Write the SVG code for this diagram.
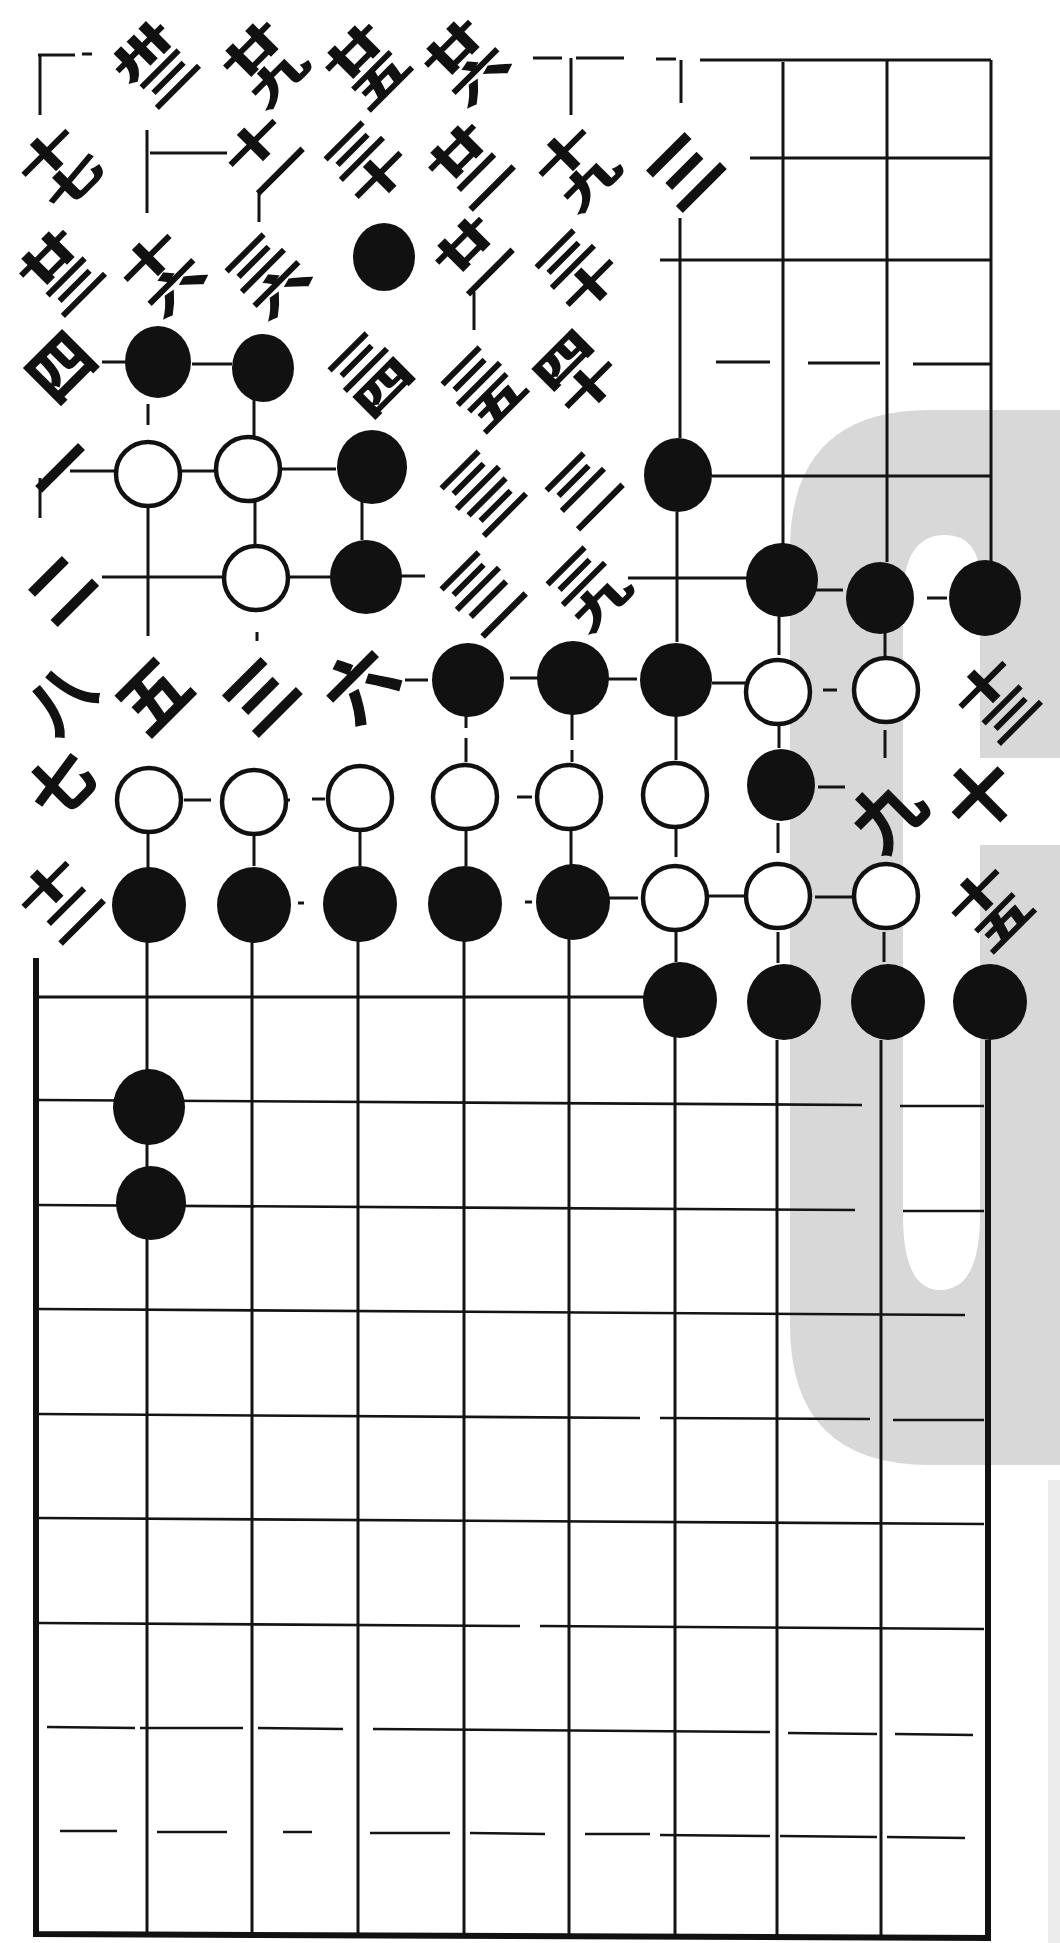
<svg xmlns="http://www.w3.org/2000/svg" width="1060" height="1943" viewBox="0 0 1060 1943">
<style>
.ln{stroke:#141414;stroke-width:3;fill:none;stroke-linecap:butt}
.lt{stroke:#141414;stroke-width:2.6;fill:none}
.bd{stroke:#111;stroke-width:6;fill:none}
.b{fill:#111}
.w{fill:#fff;stroke:#111;stroke-width:4.5}
.t1,.t2,.t0{font-family:'Noto Sans CJK SC','Noto Sans CJK TC',sans-serif;font-weight:700;fill:#111;stroke:#111;text-anchor:middle}
.t1{font-size:70px;stroke-width:1.2}
.t0{font-size:64px;stroke-width:1.4}
.t2{font-size:66px;stroke-width:2}
</style>
<rect width="1060" height="1943" fill="#fff"/>
<g id="shade">
<path d="M1060,410 H930 Q790,410 790,550 V1325 Q790,1465 930,1465 H1060 Z" fill="#d8d8d8"/>
<path d="M903,600 Q903,535 945,535 Q980,535 980,580 V758 H1060 V845 H980 V1215 Q980,1290 940,1290 Q903,1290 903,1215 Z" fill="#fff"/>
<rect x="1048" y="1480" width="12" height="463" fill="#ececec"/>
</g>
<g id="grid">
<path class="ln" d="M38,55 H75 M82,54 H92 M40,55 V115"/>
<path class="ln" d="M533,58 H562 M576,58 H624 M656,59 H676 M700,60 H991"/>
<path class="ln" d="M571,58 V115 M681,60 V103 M680,218 V438 M783,62 V545 M887,60 V562 M991,60 V562"/>
<path class="ln" d="M750,158 H991 M660,260 H991 M716,362 H770 M808,363 H880 M913,364 H991 M712,476 H991"/>
<path class="ln" d="M150,153 H227 M147,130 V213 M259,190 V222 M474,292 V330"/>
<path class="ln" d="M102,362 H125 M192,364 H232"/>
<path class="ln" d="M70,471 H117 M181,471 H216 M281,469 H336 M40,478 V518"/>
<path class="ln" d="M148,404 V425 M148,508 V636 M148,832 V868 M147,940 V1935"/>
<path class="ln" d="M102,577 H226 M290,577 H331 M400,576 H425 M628,578 H748 M813,590 H843 M927,598 H947"/>
<path class="ln" d="M254,400 V436 M255,502 V546 M257,632 V641 M254,836 V866 M252,940 V1935"/>
<path class="ln" d="M362,500 V540 M360,832 V866 M358,940 V1935"/>
<path class="ln" d="M677,512 V642 M676,716 V760 M676,826 V857 M676,926 V962 M675,1036 V1935"/>
<path class="ln" d="M405,680 H428 M510,678 H540 M607,679 H637 M712,683 H746 M823,690 H837"/>
<path class="ln" d="M466,716 V728 M466,738 V762 M466,830 V866 M464,940 V1935"/>
<path class="ln" d="M572,714 V740 M572,750 V762 M571,830 V866 M569,938 V1935"/>
<path class="ln" d="M184,800 H211 M283,800 H290 M312,799 H325 M517,797 H532 M818,787 H845"/>
<path class="ln" d="M779,614 V655 M779,726 V748 M778,823 V853 M778,932 V963 M777,1040 V1935"/>
<path class="ln" d="M885,632 V656 M885,730 V758 M884,932 V962 M881,1040 V1935"/>
<path class="ln" d="M298,903 H304 M525,902 H532 M606,898 H638 M708,896 H745 M815,897 H852"/>
<path class="ln" d="M38,997 H645"/>
<path class="lt" d="M38,1100 L862,1105 M900,1106 L984,1106"/>
<path class="lt" d="M38,1205 L855,1210 M903,1211 L984,1211"/>
<path class="lt" d="M38,1309 L965,1315"/>
<path class="lt" d="M38,1414 L640,1418 M660,1418 L870,1419 M893,1420 L984,1420"/>
<path class="lt" d="M38,1518 L984,1524"/>
<path class="lt" d="M38,1623 L520,1626 M540,1626 L984,1629"/>
<path class="lt" d="M47,1727 L135,1728 M140,1728 L243,1728 M258,1728 L343,1729 M373,1729 L770,1732 M788,1733 L877,1734 M895,1734 L973,1735"/>
<path class="lt" d="M60,1831 L117,1831 M157,1832 L227,1832 M283,1832 L312,1832 M370,1833 L450,1833 M470,1833 L545,1834 M585,1834 L650,1834 M660,1835 L770,1836 M780,1836 L877,1837 M887,1837 L965,1838"/>
<path class="bd" d="M36,958 V1936 M988,1040 V1938 M33,1934 L991,1938"/>
</g>
<g id="black-stones">
<ellipse id="b-3-2" class="b" cx="384" cy="257" rx="31" ry="34"/>
<ellipse id="b-1-3" class="b" cx="158" cy="362" rx="33" ry="36"/>
<ellipse id="b-2-3" class="b" cx="263" cy="368" rx="31" ry="34"/>
<ellipse id="b-3-4" class="b" cx="372" cy="467" rx="35" ry="37"/>
<ellipse id="b-6-4" class="b" cx="678" cy="475" rx="34" ry="37"/>
<ellipse id="b-3-5" class="b" cx="366" cy="577" rx="36" ry="37"/>
<ellipse id="b-7-5" class="b" cx="782" cy="580" rx="36" ry="37"/>
<ellipse id="b-8-5" class="b" cx="880" cy="598" rx="34" ry="36"/>
<ellipse id="b-9-5" class="b" cx="985" cy="598" rx="36" ry="38"/>
<ellipse id="b-4-6" class="b" cx="468" cy="680" rx="36" ry="37"/>
<ellipse id="b-5-6" class="b" cx="573" cy="678" rx="36" ry="37"/>
<ellipse id="b-6-6" class="b" cx="676" cy="680" rx="36" ry="37"/>
<ellipse id="b-7-7" class="b" cx="781" cy="785" rx="34" ry="36"/>
<ellipse id="b-1-8" class="b" cx="149" cy="905" rx="37" ry="38"/>
<ellipse id="b-2-8" class="b" cx="254" cy="905" rx="37" ry="38"/>
<ellipse id="b-3-8" class="b" cx="360" cy="904" rx="37" ry="38"/>
<ellipse id="b-4-8" class="b" cx="465" cy="904" rx="37" ry="38"/>
<ellipse id="b-5-8" class="b" cx="573" cy="902" rx="37" ry="38"/>
<ellipse id="b-6-9" class="b" cx="680" cy="1000" rx="37" ry="38"/>
<ellipse id="b-7-9" class="b" cx="784" cy="1002" rx="37" ry="38"/>
<ellipse id="b-8-9" class="b" cx="888" cy="1002" rx="37" ry="38"/>
<ellipse id="b-9-9" class="b" cx="990" cy="1002" rx="37" ry="38"/>
<ellipse id="b-1-10" class="b" cx="149" cy="1107" rx="36" ry="38"/>
<ellipse id="b-1-11" class="b" cx="151" cy="1203" rx="35" ry="37"/>
</g>
<g id="white-stones">
<circle id="w-1-4" class="w" cx="148" cy="474" r="32"/>
<circle id="w-2-4" class="w" cx="248" cy="469" r="32"/>
<circle id="w-2-5" class="w" cx="256" cy="578" r="32"/>
<circle id="w-7-6" class="w" cx="778" cy="692" r="32"/>
<circle id="w-8-6" class="w" cx="886" cy="690" r="32"/>
<circle id="w-1-7" class="w" cx="149" cy="800" r="32"/>
<circle id="w-2-7" class="w" cx="254" cy="802" r="32"/>
<circle id="w-3-7" class="w" cx="360" cy="798" r="32"/>
<circle id="w-4-7" class="w" cx="465" cy="797" r="32"/>
<circle id="w-5-7" class="w" cx="569" cy="797" r="32"/>
<circle id="w-6-7" class="w" cx="675" cy="795" r="32"/>
<circle id="w-6-8" class="w" cx="675" cy="898" r="32"/>
<circle id="w-7-8" class="w" cx="778" cy="896" r="32"/>
<circle id="w-8-8" class="w" cx="886" cy="896" r="32"/>
</g>
<g id="labels">
<g id="n-1-0" transform="translate(155,64) rotate(-45)"><text class="t2" transform="scale(1,0.58)"><tspan x="0" y="-8">卅</tspan><tspan x="0" y="58">三</tspan></text></g>
<g id="n-2-0" transform="translate(265,64) rotate(-45)"><text class="t2" transform="scale(1,0.58)"><tspan x="0" y="-8">廿</tspan><tspan x="0" y="58">九</tspan></text></g>
<g id="n-3-0" transform="translate(367,66) rotate(-45)"><text class="t2" transform="scale(1,0.58)"><tspan x="0" y="-8">廿</tspan><tspan x="0" y="58">五</tspan></text></g>
<g id="n-4-0" transform="translate(466,62) rotate(-45)"><text class="t2" transform="scale(1,0.58)"><tspan x="0" y="-8">廿</tspan><tspan x="0" y="58">六</tspan></text></g>
<g id="n-0-1" transform="translate(60,168) rotate(-45)"><text class="t2" transform="scale(1,0.58)"><tspan x="0" y="-8">十</tspan><tspan x="0" y="58">七</tspan></text></g>
<g id="n-2-1" transform="translate(267,158) rotate(-45)"><text class="t2" transform="scale(1,0.58)"><tspan x="0" y="-8">十</tspan><tspan x="0" y="58">一</tspan></text></g>
<g id="n-3-1" transform="translate(366,163) rotate(-45)"><text class="t2" transform="scale(1,0.58)"><tspan x="0" y="-8">三</tspan><tspan x="0" y="58">十</tspan></text></g>
<g id="n-4-1" transform="translate(470,166) rotate(-45)"><text class="t2" transform="scale(1,0.58)"><tspan x="0" y="-8">廿</tspan><tspan x="0" y="58">二</tspan></text></g>
<g id="n-5-1" transform="translate(577,168) rotate(-45)"><text class="t2" transform="scale(1,0.58)"><tspan x="0" y="-8">十</tspan><tspan x="0" y="58">九</tspan></text></g>
<g id="n-6-1" transform="translate(684,170) rotate(-45)"><text class="t1" y="27">三</text></g>
<g id="n-0-2" transform="translate(61,272) rotate(-45)"><text class="t2" transform="scale(1,0.58)"><tspan x="0" y="-8">廿</tspan><tspan x="0" y="58">三</tspan></text></g>
<g id="n-1-2" transform="translate(162,273) rotate(-45)"><text class="t2" transform="scale(1,0.58)"><tspan x="0" y="-8">十</tspan><tspan x="0" y="58">六</tspan></text></g>
<g id="n-2-2" transform="translate(267,275) rotate(-45)"><text class="t2" transform="scale(1,0.58)"><tspan x="0" y="-8">三</tspan><tspan x="0" y="58">六</tspan></text></g>
<g id="n-4-2" transform="translate(477,259) rotate(-45)"><text class="t2" transform="scale(1,0.58)"><tspan x="0" y="-8">廿</tspan><tspan x="0" y="58">一</tspan></text></g>
<g id="n-5-2" transform="translate(577,271) rotate(-45)"><text class="t2" transform="scale(1,0.58)"><tspan x="0" y="-8">三</tspan><tspan x="0" y="58">十</tspan></text></g>
<g id="n-0-3" transform="translate(60,366) rotate(-45)"><text class="t0" y="25">四</text></g>
<g id="n-3-3" transform="translate(370,374) rotate(-45)"><text class="t2" transform="scale(1,0.58)"><tspan x="0" y="-8">三</tspan><tspan x="0" y="58">四</tspan></text></g>
<g id="n-4-3" transform="translate(483,388) rotate(-45)"><text class="t2" transform="scale(1,0.58)"><tspan x="0" y="-8">三</tspan><tspan x="0" y="58">五</tspan></text></g>
<g id="n-5-3" transform="translate(576,373) rotate(-45)"><text class="t2" transform="scale(1,0.58)"><tspan x="0" y="-8">四</tspan><tspan x="0" y="58">十</tspan></text></g>
<g id="n-0-4" transform="translate(60,468) rotate(-45)"><text class="t0" y="25">一</text></g>
<g id="n-4-4" transform="translate(482,492) rotate(-45)"><text class="t2" transform="scale(1,0.58)"><tspan x="0" y="-8">三</tspan><tspan x="0" y="58">三</tspan></text></g>
<g id="n-5-4" transform="translate(587,494) rotate(-45)"><text class="t2" transform="scale(1,0.58)"><tspan x="0" y="-8">三</tspan><tspan x="0" y="58">一</tspan></text></g>
<g id="n-0-5" transform="translate(60,588) rotate(-45)"><text class="t0" y="25">二</text></g>
<g id="n-4-5" transform="translate(482,593) rotate(-45)"><text class="t2" transform="scale(1,0.58)"><tspan x="0" y="-8">三</tspan><tspan x="0" y="58">二</tspan></text></g>
<g id="n-5-5" transform="translate(588,588) rotate(-45)"><text class="t2" transform="scale(1,0.58)"><tspan x="0" y="-8">三</tspan><tspan x="0" y="58">九</tspan></text></g>
<g id="n-0-6" transform="translate(60,698) rotate(-45)"><text class="t0" y="25">八</text></g>
<g id="n-1-6" transform="translate(153,695) rotate(-45)"><text class="t1" y="27">五</text></g>
<g id="n-2-6" transform="translate(260,695) rotate(-45)"><text class="t1" y="27">三</text></g>
<g id="n-3-6" transform="translate(360,684) rotate(-45)"><text class="t1" y="27">六</text></g>
<g id="n-9-6" transform="translate(997,700) rotate(-45)"><text class="t2" transform="scale(1,0.58)"><tspan x="0" y="-8">十</tspan><tspan x="0" y="58">三</tspan></text></g>
<g id="n-0-7" transform="translate(60,784) rotate(-45)"><text class="t0" y="25">七</text></g>
<g id="n-8-7" transform="translate(887,813) rotate(-45)"><text class="t1" y="27">九</text></g>
<g id="n-9-7" transform="translate(980,795) rotate(-45)"><text class="t1" y="27">十</text></g>
<g id="n-0-8" transform="translate(60,900) rotate(-45)"><text class="t2" transform="scale(1,0.58)"><tspan x="0" y="-8">十</tspan><tspan x="0" y="58">二</tspan></text></g>
<g id="n-9-8" transform="translate(990,908) rotate(-45)"><text class="t2" transform="scale(1,0.58)"><tspan x="0" y="-8">十</tspan><tspan x="0" y="58">五</tspan></text></g>
</g>
</svg>
